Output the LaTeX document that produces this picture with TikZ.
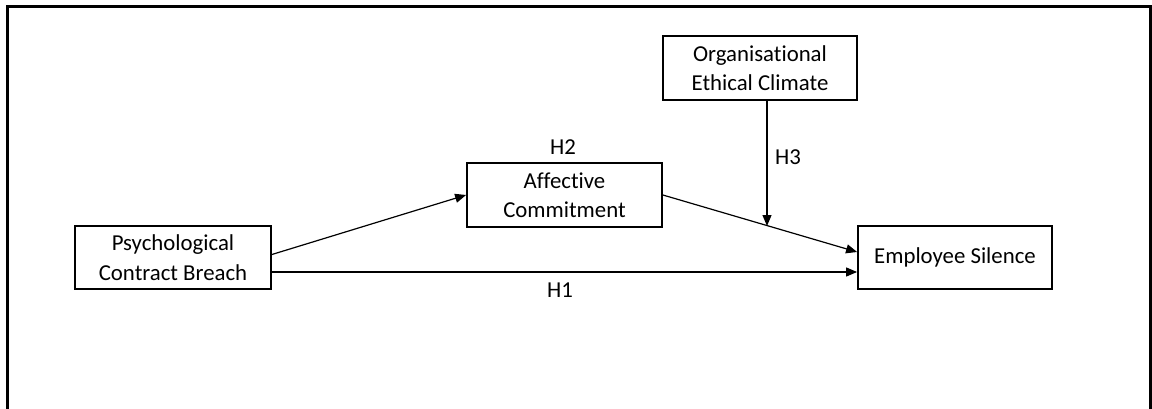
\documentclass[tikz,border=0pt]{standalone}
\usepackage{fontspec}
\setmainfont[Ligatures=NoCommon]{Carlito}
\usetikzlibrary{arrows.meta}
\tikzset{
  box/.style={draw, line width=1.8pt, align=center, inner sep=0pt, font=\fontsize{22.8}{29.5}\selectfont},
  lbl/.style={font=\fontsize{22.8}{29.5}\selectfont, inner sep=0pt},
  arr/.style={line width=1.2pt, -{Triangle[length=11pt,width=9pt]}},
  frame/.style={line width=3pt}
}
\begin{document}
\begin{tikzpicture}[x=1pt,y=-1pt]
\useasboundingbox (0,0) rectangle (1152,409);
\draw[frame] (7.5,409) -- (7.5,6.5) -- (1150.5,6.5) -- (1150.5,409);
\node[box, minimum width=196pt, minimum height=63pt] (pcb) at (173,257.5) {Psychological\\Contract Breach};
\node[box, minimum width=195pt, minimum height=64pt] (ac) at (564.5,195) {Affective\\Commitment};
\node[box, minimum width=194pt, minimum height=64pt] (oec) at (760,68) {Organisational\\Ethical Climate};
\node[box, minimum width=194pt, minimum height=63pt] (es) at (955,257.5) {Employee Silence};
\coordinate (m) at (767,226);
\draw[arr] ([yshift=3pt]pcb.east) -- (ac.west);
\draw[arr] ([yshift=-14.5pt]pcb.east) -- ([yshift=-14.5pt]es.west);
\draw[arr] (ac.east) -- ([yshift=5.5pt]es.west);
\draw[arr] (oec.south -| m) -- (m);
\node[lbl] (h2) at (563,147) {H2};
\node[lbl] (h3) at (788,157) {H3};
\node[lbl] (h1) at (560,290) {H1};
\end{tikzpicture}
\end{document}
